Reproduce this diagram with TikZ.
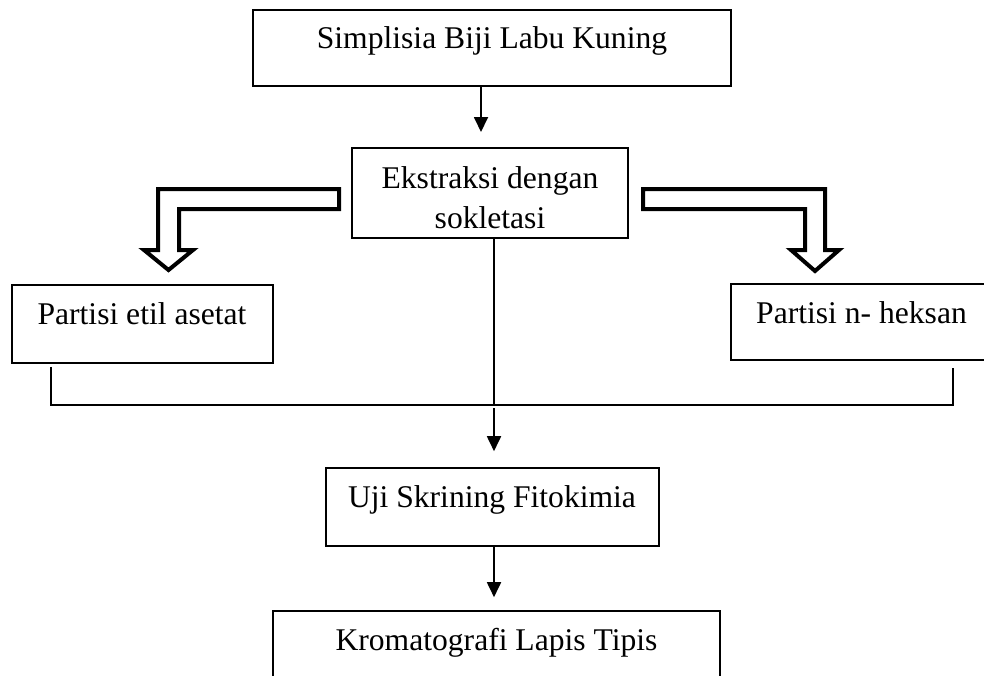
\documentclass[tikz,border=0pt]{standalone}
\usepackage{fontspec}
\setmainfont{Liberation Serif}
\usetikzlibrary{arrows.meta}
\begin{document}
\begin{tikzpicture}[x=1pt,y=-1pt,
  box/.style={draw, line width=1.6pt, inner sep=0pt},
  txt/.style={anchor=base, inner sep=0pt, font=\fontsize{31.6}{40}\selectfont},
  arr/.style={line width=1.8pt, -{Triangle[width=14pt,length=15pt]}},
  hollow/.style={draw, line width=4pt, fill=white, line join=miter},
  brk/.style={line width=1.5pt}]
\useasboundingbox (0,0) rectangle (984,675);
% boxes
\node[box, minimum width=478pt, minimum height=76pt] (b1) at (492,48) {};
\node[txt] (t1) at (492,48) {Simplisia Biji Labu Kuning};
\node[box, minimum width=276pt, minimum height=90pt] (b2) at (490,193) {};
\node[txt] (t2a) at (490,188) {Ekstraksi dengan};
\node[txt] (t2b) at (490,228) {sokletasi};
\node[box, minimum width=261pt, minimum height=78pt] (p1) at (142.5,324) {};
\node[txt] (t3) at (142,324) {Partisi etil asetat};
\node[box, minimum width=261pt, minimum height=76pt] (p2) at (861.5,322) {};
\node[txt] (t4) at (861.5,323) {Partisi n- heksan};
\node[box, minimum width=333pt, minimum height=78pt] (b5) at (492.5,507) {};
\node[txt] (t5) at (492,507) {Uji Skrining Fitokimia};
\node[box, minimum width=447pt, minimum height=78pt] (b6) at (496.5,650) {};
\node[txt] (t6) at (496.5,650) {Kromatografi Lapis Tipis};
% coordinates
\coordinate (a1) at (481,132);
\coordinate (c0) at (494,405);
\coordinate (bl) at (51,405);
\coordinate (br) at (953,405);
% connectors
\draw[arr] (b1.south -| a1) -- (a1);
\draw[brk] (b2.south -| c0) -- (c0);
\draw[brk] ([yshift=-3pt]p1.south -| bl) -- (bl) -- (br) -- ([yshift=-7pt]p2.south -| br);
\draw[arr] ([yshift=-3pt]c0) -- ([yshift=16pt]b5.north -| c0);
\draw[arr] (b5.south -| c0) -- ([yshift=13pt]b6.north -| c0);
% hollow arrows
\draw[hollow] (339,189) -- (158,189) -- (158,250) -- (144,250) -- (168.5,270) -- (193,250) -- (179,250) -- (179,209) -- (339,209) -- cycle;
\draw[hollow] (643,189) -- (825,189) -- (825,250) -- (839,250) -- (815,271) -- (791,250) -- (805,250) -- (805,209) -- (643,209) -- cycle;
\end{tikzpicture}
\end{document}
